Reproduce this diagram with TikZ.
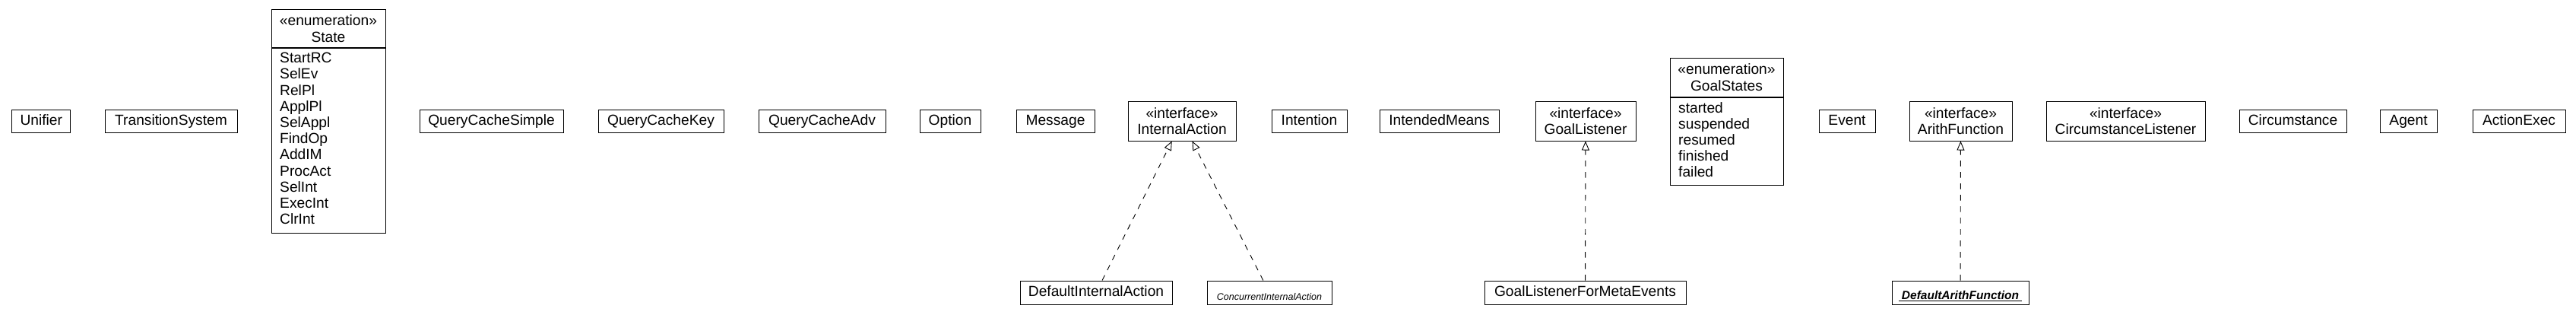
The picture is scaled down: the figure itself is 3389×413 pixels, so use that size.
\documentclass[tikz,border=0pt]{standalone}
\usepackage{fontspec}
\setmainfont{Liberation Sans}
\usetikzlibrary{arrows.meta}

\begin{document}
\begin{tikzpicture}[x=1pt, y=-1pt,
    umlclass/.style={draw, line width=1pt, rectangle, inner sep=0pt, minimum height=30pt,
        font=\fontsize{19.2}{21.5}\selectfont, text height=14pt, text depth=4pt},
    umliface/.style={draw, line width=1pt, rectangle, inner sep=0pt, minimum height=52pt,
        align=center, font=\fontsize{19.2}{21.5}\selectfont},
    umlenum/.style={draw, line width=1pt, rectangle, inner sep=0pt},
    enumhead/.style={inner sep=0pt, anchor=north, align=center, minimum height=51pt,
        font=\fontsize{19.2}{22}\selectfont},
    enumitems/.style={inner sep=0pt, anchor=north west, align=left,
        font=\fontsize{19.2}{21.2}\selectfont},
    realize/.style={dash pattern=on 7.5pt off 7.5pt, line width=0.9pt,
        -{Triangle[open, length=12pt, width=10pt]}}]
    \useasboundingbox (0,0) rectangle (3389,413);

    % top row
    \node[umlclass, minimum width=77pt] (unifier) at (54.3,159) {Unifier};
    \node[umlclass, minimum width=174pt] (transys) at (225,159) {TransitionSystem};

    % enumeration State
    \node[umlenum, minimum width=150pt, minimum height=294pt] (state) at (432,159) {};
    \node[enumhead, minimum width=150pt] (statehead) at (state.north) {«enumeration»\\State};
    \draw[line width=1.8pt] (statehead.south west) -- (statehead.south east);
    \node[enumitems] (stateitems) at (368,69) {StartRC\\SelEv\\RelPl\\ApplPl\\SelAppl\\FindOp\\AddIM\\ProcAct\\SelInt\\ExecInt\\ClrInt};

    \node[umlclass, minimum width=189pt] (qcsimple) at (646.5,159) {QueryCacheSimple};
    \node[umlclass, minimum width=165pt] (qckey) at (869.5,159) {QueryCacheKey};
    \node[umlclass, minimum width=167pt] (qcadv) at (1081.5,159) {QueryCacheAdv};
    \node[umlclass, minimum width=80pt] (option) at (1250,159) {Option};
    \node[umlclass, minimum width=103pt] (message) at (1388.5,159) {Message};
    \node[umliface, minimum width=142pt] (intaction) at (1555,159) {«interface»\\InternalAction};
    \node[umlclass, minimum width=99pt] (intention) at (1722.5,159) {Intention};
    \node[umlclass, minimum width=157pt] (intmeans) at (1893.5,159) {IntendedMeans};
    \node[umliface, minimum width=132pt] (goallist) at (2086,159) {«interface»\\GoalListener};

    % enumeration GoalStates
    \node[umlenum, minimum width=149pt, minimum height=167pt] (goalstates) at (2271.5,159.5) {};
    \node[enumhead, minimum width=149pt, minimum height=52pt] (goalhead) at (goalstates.north) {«enumeration»\\GoalStates};
    \draw[line width=1.8pt] (goalhead.south west) -- (goalhead.south east);
    \node[enumitems] (goalitems) at (2208,134) {started\\suspended\\resumed\\finished\\failed};

    \node[umlclass, minimum width=74pt] (event) at (2430,159) {Event};
    \node[umliface, minimum width=135pt] (arithfun) at (2579.5,159) {«interface»\\ArithFunction};
    \node[umliface, minimum width=209pt] (circlist) at (2796.5,159) {«interface»\\CircumstanceListener};
    \node[umlclass, minimum width=141pt] (circ) at (3016.5,159) {Circumstance};
    \node[umlclass, minimum width=75pt] (agent) at (3168.5,159) {Agent};
    \node[umlclass, minimum width=122pt] (actexec) at (3314,159) {ActionExec};

    % bottom row
    \node[umlclass, minimum width=200pt, minimum height=31pt] (definta) at (1442,384.5) {DefaultInternalAction};
    \node[umlclass, minimum width=164pt, minimum height=31pt, font=\fontsize{12.5}{14}\selectfont\itshape,
        text height=20pt, text depth=1pt] (concinta) at (1670,384.5) {ConcurrentInternalAction};
    \node[umlclass, minimum width=265pt, minimum height=31pt] (goalmeta) at (2085.5,384.5) {GoalListenerForMetaEvents};
    \node[umlclass, minimum width=180pt, minimum height=31pt, font=\fontsize{15.5}{17}\selectfont\bfseries\itshape,
        text height=19pt, text depth=1.4pt] (defarith) at (2579,384.5) {\underline{\kern4pt DefaultArithFunction\kern4pt}};

    % realizations
    \draw[realize] (definta) -- (intaction);
    \draw[realize] (concinta) -- (intaction);
    \draw[realize] (goalmeta) -- (goallist);
    \draw[realize] (defarith) -- (arithfun);
\end{tikzpicture}
\end{document}
